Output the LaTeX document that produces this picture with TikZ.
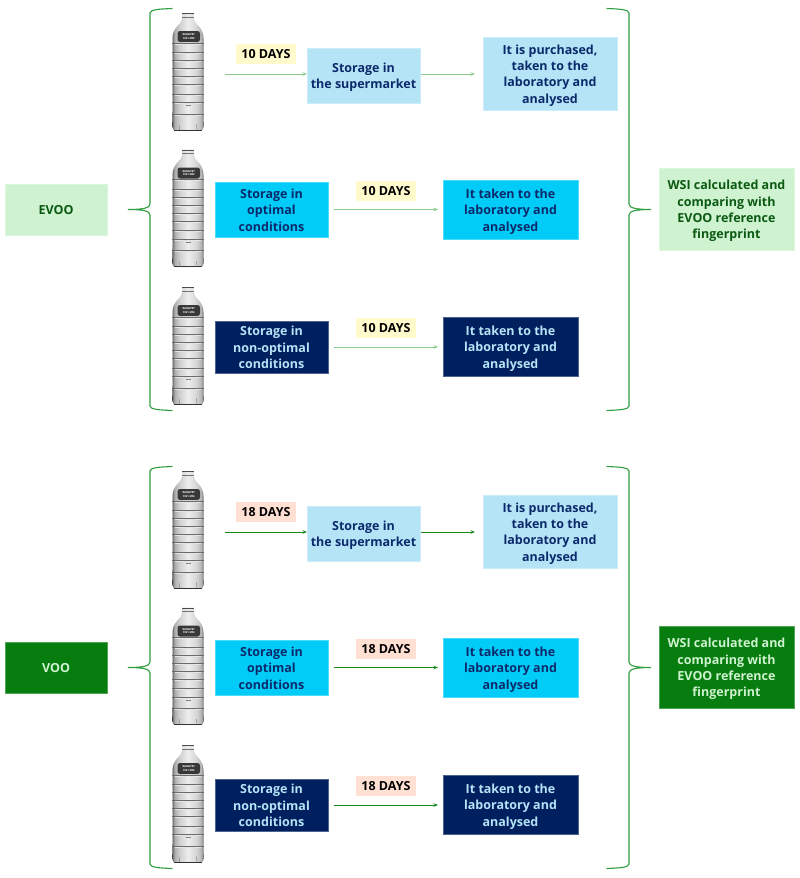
\documentclass[tikz,border=0pt]{standalone}
\usepackage{fontspec}
\setmainfont{Open Sans}
\usetikzlibrary{arrows.meta,calc}
\definecolor{paleGreen}{HTML}{CFF2D0}
\definecolor{deepGreen}{HTML}{067D0E}
\definecolor{inkGreen}{HTML}{0B5A12}
\definecolor{skyFill}{HTML}{B5E4F7}
\definecolor{cyanFill}{HTML}{00CCF7}
\definecolor{navyFill}{HTML}{001F5F}
\definecolor{navyInk}{HTML}{0B2A6B}
\definecolor{braceGreen}{HTML}{2E9E3E}
\definecolor{paleArrow}{HTML}{8CCB8E}
\definecolor{darkArrow}{HTML}{17891F}
\definecolor{creamTag}{HTML}{FFFBCC}
\definecolor{peachTag}{HTML}{FFE0D2}
% extra head room on the first line of a caption
\newcommand{\headroom}{\rule{0pt}{13.5pt}}
\newcommand{\tagroom}{\rule{0pt}{12.5pt}}
% plastic wall of the bottle: dark rim, quickly lightening towards the middle
\pgfdeclarehorizontalshading{bottlewall}{100bp}{
  color(0bp)=(black!70);
  color(25bp)=(black!70);
  color(26.5bp)=(black!48);
  color(29bp)=(black!32);
  color(36bp)=(black!19);
  color(50bp)=(black!7);
  color(64bp)=(black!17);
  color(71bp)=(black!30);
  color(73.5bp)=(black!48);
  color(75bp)=(black!70);
  color(100bp)=(black!70)}
\tikzset{
  x=1pt,y=-1pt,
  labelbox/.style={anchor=north west,inner sep=0pt,outer sep=0pt,align=center,
    font=\fontsize{12.5}{16.3}\selectfont\bfseries,
    execute at end node={\rule[-3pt]{0pt}{3pt}}},
  edged/.style={labelbox,fill=#1,draw=#1!70!white,line width=0.5pt},
  skybox/.style={edged=skyFill,text=navyInk},
  cyanbox/.style={edged=cyanFill,text=navyInk},
  navybox/.style={edged=navyFill,text=skyFill},
  daytag/.style={labelbox,minimum width=60pt,minimum height=20pt,text=black},
  flow/.style={line width=0.9pt,-{Stealth[length=4.5pt,width=3.5pt]}},
  bracket/.style={braceGreen,line width=1.1pt,line cap=round},
  pics/oilbottle/.style={code={
    % bottle outline filled with the wall shading
    \path[shading=bottlewall]
      (-5.5,5) -- (-6,0.5) -- (6,0.5) -- (5.5,5)
      .. controls (6,12) and (15.5,14) .. (15.5,26)
      -- (15.5,100) .. controls (15.5,104) and (15.8,108) .. (15.8,114)
      .. controls (15.8,117) and (14,118) .. (12,118)
      -- (-12,118) .. controls (-14,118) and (-15.8,117) .. (-15.8,114)
      .. controls (-15.8,108) and (-15.5,104) .. (-15.5,100)
      -- (-15.5,26) .. controls (-15.5,14) and (-6,12) .. (-5.5,5) -- cycle;
    % neck rings
    \fill[black!70] (-6,0.5) rectangle (6,1.4);
    \fill[black!55] (-5.8,4.4) rectangle (5.8,5.2);
    % label
    \fill[black!78,rounded corners=2.5pt] (-10.5,18.5) rectangle (12,29.5);
    \node[text=white,font=\fontsize{2.6}{3.4}\selectfont\bfseries,align=center,inner sep=0pt]
      at (0.7,24) {RAMAPET\\1001 MM};
    % moulded ribs, each with a bright edge below it
    \foreach \ry in {30.5,40,48,56,64,72,81.5,90,101.5} {
      \draw[black!58,line width=0.8pt] (-15.6,\ry) -- (15.6,\ry);
      \draw[white!80!gray,line width=0.7pt] (-13,\ry+1) -- (13,\ry+1);
    }
    \draw[black!50,line width=0.4pt] (-2.5,92.7) -- (2.5,92.7);
    % base and feet
    \draw[black!80,line width=0.8pt] (-14,117.6) -- (14,117.6);
    \draw[black!50,line width=0.5pt] (-9,112) -- (-8.5,117.5) (8.5,112) -- (9,117.5);
  }}
}
% one panel: #1 node prefix, #2 vertical offset, #3 side box fill, #4 side box ink,
% #5 day count, #6 tag fill, #7 arrow colour
\newcommand{\oilpanel}[7]{
  \begin{scope}[yshift=-#2pt]
    % bottles
    \foreach \by in {12.5,149,286.5} \pic at (188,\by) {oilbottle};
    % sample boxes
    \node[edged=#3,text=#4,minimum width=102pt,minimum height=51pt] (#1oil) at (5,184) {\tagroom #1};
    \node[edged=#3,text=#4,minimum width=135pt,minimum height=82pt] (#1wsi) at (659,168)
      {\headroom WSI calculated and\\comparing with\\EVOO reference\\fingerprint};
    % first row
    \node[skybox,minimum width=113pt,minimum height=55pt] (#1market) at (307,48) {\headroom Storage in\\the supermarket};
    \node[skybox,minimum width=134pt,minimum height=73pt] (#1bought) at (483,37) {\headroom It is purchased,\\taken to the\\laboratory and\\analysed};
    \node[daytag,fill=#6] (#1tagA) at (236,44) {\tagroom #5 DAYS};
    % second row
    \node[cyanbox,minimum width=113pt,minimum height=55pt] (#1opt) at (215,182) {\headroom Storage in\\optimal\\conditions};
    \node[cyanbox,minimum width=135pt,minimum height=59pt] (#1labB) at (443,180) {\headroom It taken to the\\laboratory and\\analysed};
    \node[daytag,fill=#6] (#1tagB) at (356,181) {\tagroom #5 DAYS};
    % third row
    \node[navybox,minimum width=113pt,minimum height=52pt] (#1non) at (215,321) {\headroom Storage in\\non-optimal\\conditions};
    \node[navybox,minimum width=135pt,minimum height=59pt] (#1labC) at (443,317) {\headroom It taken to the\\laboratory and\\analysed};
    \node[daytag,fill=#6] (#1tagC) at (356,318) {\tagroom #5 DAYS};
    % flow arrows
    \coordinate (#1start) at (225,74);
    \draw[flow,#7] (#1start) -- (#1market.west |- #1start);
    \draw[flow,#7,shorten <=1pt,shorten >=8pt] (#1market.east |- #1start) -- (#1bought.west |- #1start);
    \draw[flow,#7,shorten <=6pt,shorten >=5pt] (#1opt.east) -- (#1labB.west |- #1opt.east);
    \draw[flow,#7,shorten <=6pt,shorten >=5pt] (#1non.east) -- (#1labC.west |- #1non.east);
    % braces
    \coordinate (#1tipL) at (128,209.5);
    \coordinate (#1tipR) at (651,209.5);
    \draw[bracket] (172,8.5) .. controls (160,9) and (150,9.5) .. (150,13)
      -- (150,204) .. controls (150,208) and (143,209.5) .. (#1tipL)
      .. controls (143,209.5) and (150,211) .. (150,215)
      -- (150,406) .. controls (150,409.5) and (160,410) .. (172,410.5);
    \draw[bracket] (607,8.5) .. controls (619,9) and (629,9.5) .. (629,13)
      -- (629,204) .. controls (629,208) and (636,209.5) .. (#1tipR)
      .. controls (636,209.5) and (629,211) .. (629,215)
      -- (629,406) .. controls (629,409.5) and (619,410) .. (607,410.5);
  \end{scope}
}
\begin{document}
\begin{tikzpicture}
  \useasboundingbox[fill=white] (0,0) rectangle (800,878);
  \oilpanel{EVOO}{0}{paleGreen}{inkGreen}{10}{creamTag}{paleArrow}
  \begin{scope}[yshift=-458pt]
    \oilpanel{VOO}{0}{deepGreen}{paleGreen}{18}{peachTag}{darkArrow}
  \end{scope}
\end{tikzpicture}
\end{document}
